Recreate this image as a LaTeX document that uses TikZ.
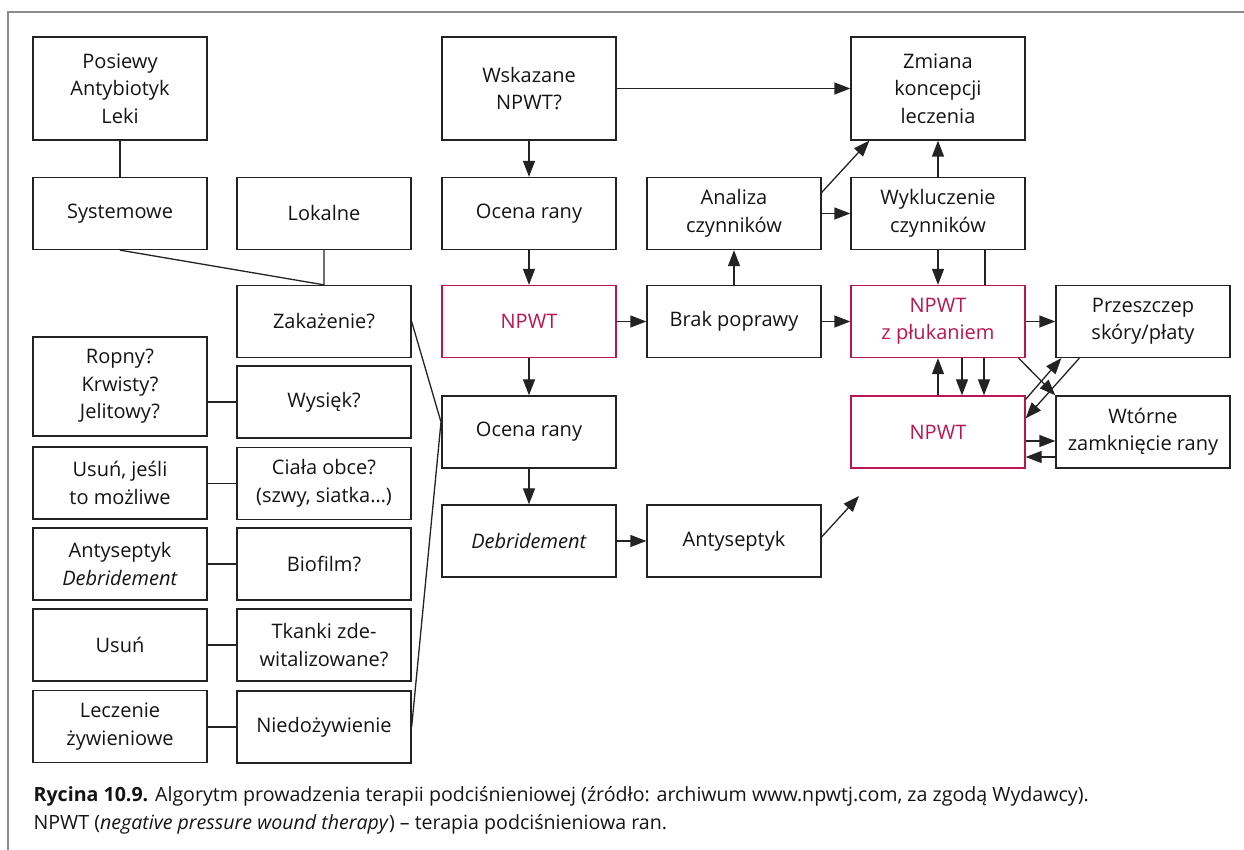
\documentclass[tikz,border=0pt]{standalone}
\usepackage{fontspec}
\setmainfont{Open Sans}
\usetikzlibrary{arrows.meta,calc}
\definecolor{npred}{RGB}{183,22,82}
\definecolor{ink}{RGB}{35,35,35}
\definecolor{framegray}{RGB}{140,140,140}

\begin{document}
\begin{tikzpicture}
  [x=0.5pt,y=-0.5pt,
   every node/.style={draw=ink,line width=0.65pt,minimum width=87pt,minimum height=36pt,
     inner sep=2pt,align=center,text=black!92,font=\fontsize{10}{13.7}\selectfont},
   tall/.style={minimum height=51.5pt},
   npwt/.style={draw=npred,text=npred},
   line/.style={draw=ink,line width=0.65pt},
   arr/.style={line,-{Triangle[length=8pt,width=6pt]}}]
  \useasboundingbox (0,0) rectangle (1244,850);
  \draw[framegray,line width=1pt] (8,850) -- (8,12) -- (1244,12);

  % left part
  \node[tall] (posiewy) at (120,88.5) {Posiewy\\Antybiotyk\\Leki};
  \node (system) at (120,213.5) {Systemowe};
  \node (lokal) at (324,213.5) {Lokalne};
  \node (zakaz) at (324,321.5) {Zakażenie?};
  \node[minimum height=49.5pt] (ropny) at (120,386.5) {Ropny?\\Krwisty?\\Jelitowy?};
  \node (wysiek) at (324,402) {Wysięk?};
  \node (usunm) at (120,483) {Usuń, jeśli\\to możliwe};
  \node (ciala) at (324,483.5) {Ciała obce?\\(szwy, siatka…)};
  \node (antys1) at (120,564) {Antyseptyk\\\textit{Debridement}};
  \node (biofilm) at (324,564) {Biofilm?};
  \node (usun) at (120,645) {Usuń};
  \node (tkanki) at (324,645) {Tkanki zde-\\witalizowane?};
  \node (leczz) at (120,726.5) {Leczenie\\żywieniowe};
  \node (niedoz) at (324,727) {Niedożywienie};

  % main path
  \node[tall] (wskaz) at (529,88.5) {Wskazane\\NPWT?};
  \node (ocena1) at (529,213.5) {Ocena rany};
  \node[npwt] (npwt1) at (529,321.5) {NPWT};
  \node (ocena2) at (529,432) {Ocena rany};
  \node (debr) at (529,541) {\textit{Debridement}};
  \node (antys2) at (734,541) {Antyseptyk};
  \node (analiza) at (734,213.5) {Analiza\\czynników};
  \node (brak) at (734,321.5) {Brak poprawy};
  \node[tall] (zmiana) at (938,88.5) {Zmiana\\koncepcji\\leczenia};
  \node (wykl) at (938,213.5) {Wykluczenie\\czynników};
  \node[npwt] (npwtp) at (938,321.5) {NPWT\\z płukaniem};
  \node[npwt] (npwt2) at (938,432) {NPWT};
  \node (przesz) at (1143,321.5) {Przeszczep\\skóry/płaty};
  \node (wtorne) at (1143,432) {Wtórne\\zamknięcie rany};

  \coordinate (apex) at (441,422);
  \coordinate (tip) at (859,496);

  \draw[line] (posiewy) -- (system);
  \draw[line] (system.south) -- (zakaz.north) -- (lokal.south);
  \draw[line] (zakaz.east) -- (apex) -- (niedoz.east);
  \foreach \from/\to in {ropny/wysiek,usunm/ciala,antys1/biofilm,usun/tkanki,leczz/niedoz}
    \draw[line] (\to.west) -- (\from.east |- \to.west);

  \foreach \from/\to in {wskaz/zmiana,wskaz/ocena1,ocena1/npwt1,npwt1/ocena2,ocena2/debr,
      debr/antys2,npwt1/brak,brak/analiza,brak/npwtp,analiza/wykl,wykl/zmiana,wykl/npwtp,
      npwtp/przesz,npwt2/npwtp}
    \draw[arr] (\from) -- (\to);

  \draw[arr] ([yshift=10.5pt]analiza.east) -- ([xshift=9.5pt]zmiana.south west);
  \draw[arr] ([yshift=2pt]antys2.east) -- (tip);
  \draw[line] ([xshift=23.5pt]wykl.south) -- ([xshift=23.5pt]npwtp.north);
  \draw[arr] ([xshift=12pt]npwtp.south) -- ([xshift=12pt]npwt2.north);
  \draw[arr] ([xshift=23pt]npwtp.south) -- ([xshift=23pt]npwt2.north);
  \draw[arr] ([xshift=-3.5pt]npwtp.south east) -- (wtorne.north west);
  \draw[arr] ([yshift=-2pt]npwt2.north east) -- ([xshift=3pt]przesz.south west);
  \draw[arr] ([xshift=12pt]przesz.south west) -- ([yshift=-11.5pt]npwt2.north east);
  \draw[arr] ([yshift=-4.5pt]npwt2.east) -- ([yshift=-4.5pt]wtorne.west);
  \draw[arr] ([yshift=-12.5pt]wtorne.west) -- ([yshift=-12.5pt]npwt2.east);

  % caption
  \node[draw=none,minimum width=0pt,minimum height=0pt,inner sep=0pt,anchor=north west,
    align=left,font=\fontsize{9.8}{14}\selectfont] (caption) at (33,786)
    {\textbf{Rycina 10.9.} Algorytm prowadzenia terapii podciśnieniowej (źródło: archiwum www.npwtj.com, za zgodą Wydawcy).\\
     NPWT (\textit{negative pressure wound therapy}) – terapia podciśnieniowa ran.};
\end{tikzpicture}
\end{document}
